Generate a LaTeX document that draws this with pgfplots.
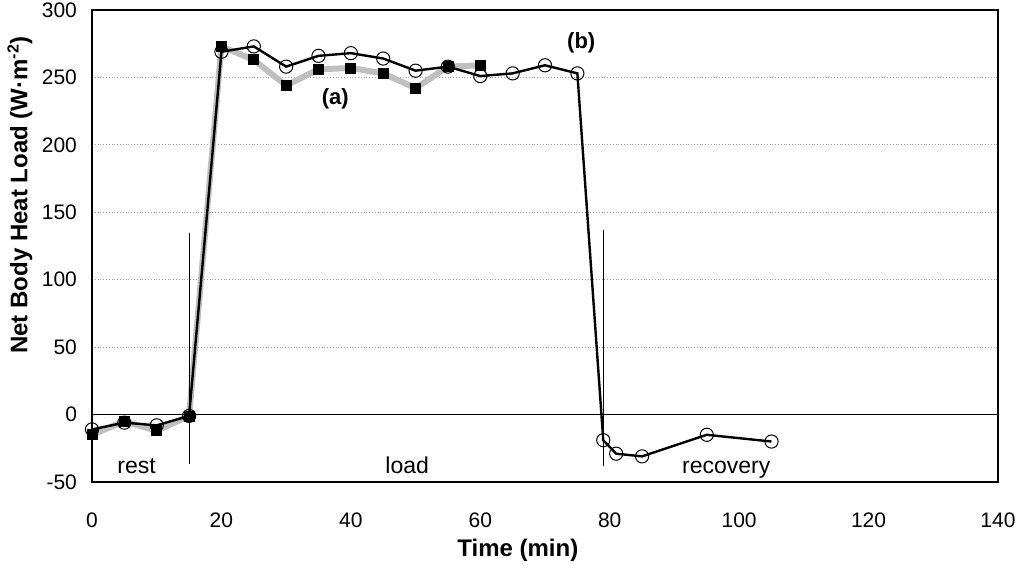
\documentclass[border=0pt]{standalone}
\usepackage{fontspec}
\setmainfont{Liberation Sans}
\usepackage{pgfplots}
\pgfplotsset{compat=1.18}
\usetikzlibrary{calc}

% (a) filled squares, grey band
\pgfplotstableread{
t   q
0   -15
5   -5
10  -12
15  -1
20  273
25  263
30  244
35  256
40  257
45  253
50  242
55  258
60  259
}\seriesa

% (b) open circles, black line
\pgfplotstableread{
t   q
0   -11
5   -6
10  -8
15  -1
20  269
25  273
30  258
35  266
40  268
45  264
50  255
55  258
60  251
65  253
70  259
75  253
79  -19
81  -29
85  -31
95  -15
105 -20
}\seriesb

\begin{document}
\begin{tikzpicture}
\begin{axis}[
  name=ax,
  scale only axis,
  width=453pt, height=236pt,
  xmin=0, xmax=140, ymin=-50, ymax=300,
  xtick={0,20,...,140},
  ytick={-50,0,...,300},
  major tick length=0pt,
  ymajorgrids,
  major grid style={gray!70, densely dotted, line width=0.5pt},
  extra y ticks={0},
  extra y tick labels={},
  extra y tick style={grid=major, major grid style={black, solid, line width=0.6pt}},
  axis line style={black, line width=0.6pt},
  /pgf/number format/assume math mode=true,
  ticklabel style={font=\fontsize{10.5}{12}\selectfont},
  xticklabel style={yshift=-12pt},
  yticklabel style={xshift=-4pt},
  xlabel={Time (min)},
  ylabel={Net Body Heat Load (W·m\textsuperscript{-2})},
  label style={font=\fontsize{12}{14}\selectfont\bfseries},
  xlabel style={at={(axis description cs:0.47,0)}, anchor=center, yshift=-34pt},
  ylabel style={at={(axis description cs:0,0.608)}, anchor=center, yshift=36pt},
  clip=false,
]
\addplot[color=gray!50, line width=3pt, line join=round] table[x=t, y=q] {\seriesa};
\addplot[color=black, line width=1.2pt, mark=o,
  mark size=3.3pt, mark options={line width=0.5pt, fill=none}] table[x=t, y=q] {\seriesb};
\addplot[only marks, mark=square*, mark size=2.5pt, color=black] table[x=t, y=q] {\seriesa};

\draw[black, line width=0.4pt] (axis cs:15,135) -- (axis cs:15,-37);
\draw[black, line width=0.4pt] (axis cs:79,137) -- (axis cs:79,-38);

\node[anchor=base, font=\fontsize{11.5}{13}\selectfont] at (axis cs:6.9,-44) {rest};
\node[anchor=base, font=\fontsize{11.5}{13}\selectfont] at (axis cs:48.7,-44) {load};
\node[anchor=base, font=\fontsize{11.5}{13}\selectfont] at (axis cs:98,-44) {recovery};
\node[font=\fontsize{11}{13}\selectfont\bfseries] at (axis cs:37.6,234) {(a)};
\node[font=\fontsize{11}{13}\selectfont\bfseries] at (axis cs:75.6,276) {(b)};
\end{axis}
\pgfresetboundingbox
\path[use as bounding box] ($(ax.south west)+(-46pt,-42pt)$) rectangle ($(ax.north east)+(11pt,5pt)$);
\end{tikzpicture}
\end{document}
